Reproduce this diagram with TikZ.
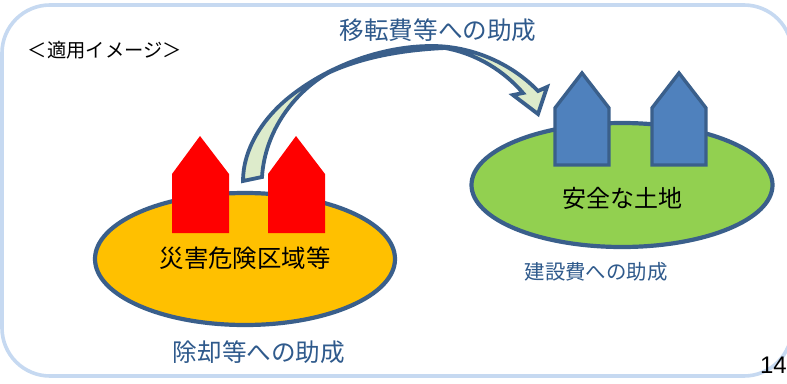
\documentclass[tikz,border=0pt]{standalone}
\usepackage{fontspec}
\usetikzlibrary{shapes.geometric}
\setmainfont{Liberation Sans}
\newfontfamily\cjk{Noto Sans CJK JP}
\definecolor{edgeblue}{HTML}{3A5F8B}
\definecolor{framec}{HTML}{C6D9F1}
\definecolor{textblue}{HTML}{2F5A8C}
\definecolor{redfill}{HTML}{FF0000}
\definecolor{housefill}{HTML}{4F81BD}
\definecolor{orangefill}{HTML}{FFC000}
\definecolor{greenfill}{HTML}{92D050}
\definecolor{arrowfill}{HTML}{DDEBCB}
\tikzset{
  frameline/.style={draw=framec,line width=3.6pt},
  blob/.style={draw=edgeblue,line width=4.2pt},
  redhouse/.style={fill=redfill},
  bluehouse/.style={fill=housefill,draw=edgeblue,line width=3.4pt,line join=miter},
  curved/.style={draw=edgeblue,fill=arrowfill,line width=3.8pt,line join=miter},
  lab/.style={inner sep=0pt,font=\cjk\fontsize{#1}{#1}\selectfont},
}
\begin{document}
\begin{tikzpicture}[x=1pt,y=-1pt]
\useasboundingbox (0,0) rectangle (787,383);
\fill[white] (0,0) rectangle (787,383);
\draw[frameline,rounded corners=48pt] (2,5) rectangle (792,376);
\node[blob,ellipse,fill=orangefill,minimum width=300pt,minimum height=132pt,inner sep=0pt] (danger) at (245,259) {};
\node[blob,ellipse,fill=greenfill,minimum width=301pt,minimum height=124pt,inner sep=0pt] (safe) at (622,185) {};
\fill[redhouse] (172,174) -- (200,136) -- (229,174) -- (229,233) -- (172,233) -- cycle;
\fill[redhouse] (268,174) -- (296,136) -- (325,174) -- (325,233) -- (268,233) -- cycle;
\draw[bluehouse] (555,108) -- (582,73) -- (609,108) -- (609,165) -- (555,165) -- cycle;
\draw[bluehouse] (652,108) -- (679,73) -- (706,108) -- (706,165) -- (652,165) -- cycle;
\draw[curved] (243,181)
  .. controls (243,150) and (262,118) .. (292,95)
  .. controls (328,67) and (380,46) .. (432,46)
  .. controls (470,46) and (510,62) .. (538,91)
  -- (547,87) -- (538,114) -- (513,95) -- (523,93)
  .. controls (505,72) and (478,54) .. (445,48)
  .. controls (400,50) and (360,58) .. (328,73)
  .. controls (295,92) and (265,130) .. (262,177) -- cycle;
\node[lab=24.6,text=textblue] (move) at (438,30) {移転費等への助成};
\node[lab=19.3,text=black] (apply) at (105,50) {＜適用イメージ＞};
\node[lab=24.4,text=black] (dangerlab) at (245,258) {災害危険区域等};
\node[lab=24,text=black] (safelab) at (622,198) {安全な土地};
\node[lab=20.4,text=textblue] (build) at (596,272) {建設費への助成};
\node[lab=24.6,text=textblue] (remove) at (259,352) {除却等への助成};
\node[inner sep=0pt,font=\fontsize{24}{24}\selectfont,text=black,anchor=east] (page) at (787,365) {14};
\end{tikzpicture}
\end{document}
